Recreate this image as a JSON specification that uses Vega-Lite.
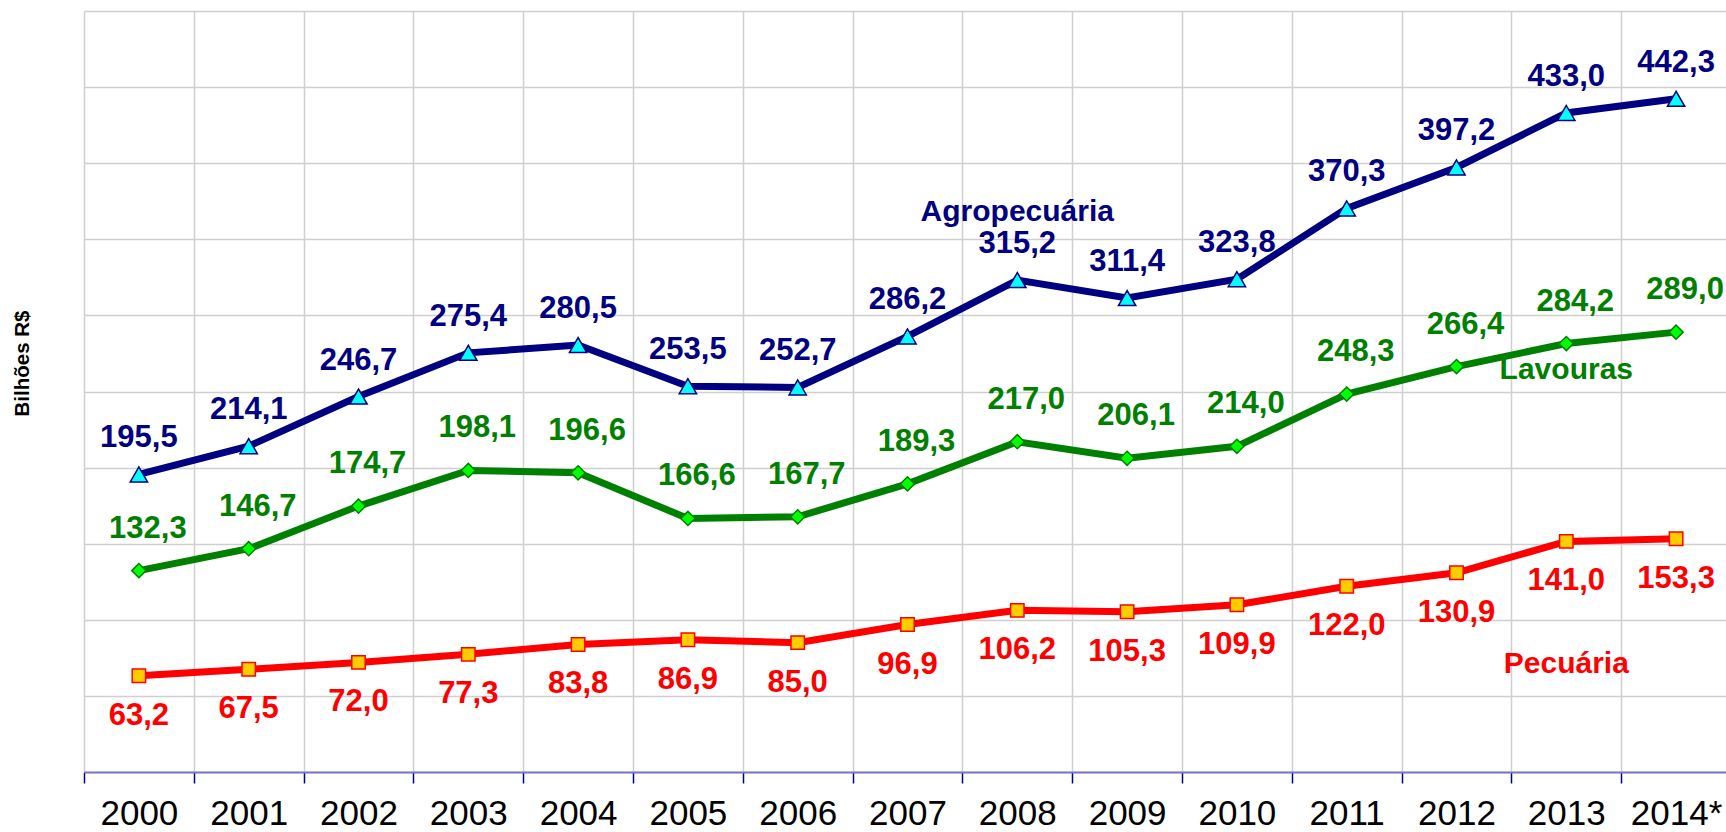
{
  "$schema": "https://vega.github.io/schema/vega-lite/v6.json",
  "width": 1642,
  "height": 761,
  "autosize": {"type": "none"},
  "padding": {"left": 84, "top": 11, "right": 0, "bottom": 60},
  "background": "white",
  "config": {"view": {"stroke": null}, "font": "Liberation Sans"},
  "datasets": {
    "main": [
      {"year": "2000", "serie": "Agropecuária", "value": 195.5, "label": "195,5"},
      {"year": "2001", "serie": "Agropecuária", "value": 214.1, "label": "214,1"},
      {"year": "2002", "serie": "Agropecuária", "value": 246.7, "label": "246,7"},
      {"year": "2003", "serie": "Agropecuária", "value": 275.4, "label": "275,4"},
      {"year": "2004", "serie": "Agropecuária", "value": 280.5, "label": "280,5"},
      {"year": "2005", "serie": "Agropecuária", "value": 253.5, "label": "253,5"},
      {"year": "2006", "serie": "Agropecuária", "value": 252.7, "label": "252,7"},
      {"year": "2007", "serie": "Agropecuária", "value": 286.2, "label": "286,2"},
      {"year": "2008", "serie": "Agropecuária", "value": 323.2, "label": "315,2"},
      {"year": "2009", "serie": "Agropecuária", "value": 311.4, "label": "311,4"},
      {"year": "2010", "serie": "Agropecuária", "value": 323.8, "label": "323,8"},
      {"year": "2011", "serie": "Agropecuária", "value": 370.3, "label": "370,3"},
      {"year": "2012", "serie": "Agropecuária", "value": 397.2, "label": "397,2"},
      {"year": "2013", "serie": "Agropecuária", "value": 433.0, "label": "433,0"},
      {"year": "2014*", "serie": "Agropecuária", "value": 442.3, "label": "442,3"},
      {"year": "2000", "serie": "Lavouras", "value": 132.3, "label": "132,3"},
      {"year": "2001", "serie": "Lavouras", "value": 146.7, "label": "146,7"},
      {"year": "2002", "serie": "Lavouras", "value": 174.7, "label": "174,7"},
      {"year": "2003", "serie": "Lavouras", "value": 198.1, "label": "198,1"},
      {"year": "2004", "serie": "Lavouras", "value": 196.6, "label": "196,6"},
      {"year": "2005", "serie": "Lavouras", "value": 166.6, "label": "166,6"},
      {"year": "2006", "serie": "Lavouras", "value": 167.7, "label": "167,7"},
      {"year": "2007", "serie": "Lavouras", "value": 189.3, "label": "189,3"},
      {"year": "2008", "serie": "Lavouras", "value": 217.0, "label": "217,0"},
      {"year": "2009", "serie": "Lavouras", "value": 206.1, "label": "206,1"},
      {"year": "2010", "serie": "Lavouras", "value": 214.0, "label": "214,0"},
      {"year": "2011", "serie": "Lavouras", "value": 248.3, "label": "248,3"},
      {"year": "2012", "serie": "Lavouras", "value": 266.4, "label": "266,4"},
      {"year": "2013", "serie": "Lavouras", "value": 281.5, "label": "284,2"},
      {"year": "2014*", "serie": "Lavouras", "value": 289.0, "label": "289,0"},
      {"year": "2000", "serie": "Pecuária", "value": 63.2, "label": "63,2"},
      {"year": "2001", "serie": "Pecuária", "value": 67.5, "label": "67,5"},
      {"year": "2002", "serie": "Pecuária", "value": 72.0, "label": "72,0"},
      {"year": "2003", "serie": "Pecuária", "value": 77.3, "label": "77,3"},
      {"year": "2004", "serie": "Pecuária", "value": 83.8, "label": "83,8"},
      {"year": "2005", "serie": "Pecuária", "value": 86.9, "label": "86,9"},
      {"year": "2006", "serie": "Pecuária", "value": 85.0, "label": "85,0"},
      {"year": "2007", "serie": "Pecuária", "value": 96.9, "label": "96,9"},
      {"year": "2008", "serie": "Pecuária", "value": 106.2, "label": "106,2"},
      {"year": "2009", "serie": "Pecuária", "value": 105.3, "label": "105,3"},
      {"year": "2010", "serie": "Pecuária", "value": 109.9, "label": "109,9"},
      {"year": "2011", "serie": "Pecuária", "value": 122.0, "label": "122,0"},
      {"year": "2012", "serie": "Pecuária", "value": 130.9, "label": "130,9"},
      {"year": "2013", "serie": "Pecuária", "value": 151.5, "label": "141,0"},
      {"year": "2014*", "serie": "Pecuária", "value": 153.3, "label": "153,3"}
    ],
    "names": [
      {"year": "2008", "serie": "Agropecuária", "value": 368},
      {"year": "2013", "serie": "Lavouras", "value": 264},
      {"year": "2013", "serie": "Pecuária", "value": 71}
    ]
  },
  "encoding": {
    "x": {
      "field": "year",
      "type": "ordinal",
      "sort": ["2000", "2001", "2002", "2003", "2004", "2005", "2006", "2007", "2008", "2009", "2010", "2011", "2012", "2013", "2014*"],
      "scale": {"type": "band", "range": [0, 1647], "paddingInner": 0, "paddingOuter": 0},
      "axis": {
        "title": null,
        "labelAngle": 0,
        "labelFontSize": 35,
        "labelColor": "#000000",
        "labelPadding": 13,
        "domain": true,
        "domainColor": "#7878c4",
        "domainWidth": 2,
        "ticks": true,
        "tickColor": "#000080",
        "tickSize": 11,
        "tickWidth": 1.5,
        "tickBand": "extent",
        "grid": true,
        "gridColor": "#cfcfcf",
        "gridWidth": 1.5
      }
    },
    "y": {
      "field": "value",
      "type": "quantitative",
      "scale": {"domain": [0, 500], "nice": false, "zero": true},
      "axis": {
        "title": "Bilhões R$",
        "titleFontSize": 20.5,
        "titleFontWeight": "bold",
        "titleColor": "#000000",
        "titleX": -62,
        "titleY": 352,
        "titleAngle": -90,
        "titleAlign": "center",
        "titleBaseline": "middle",
        "labels": false,
        "ticks": false,
        "domain": false,
        "grid": true,
        "gridColor": "#cfcfcf",
        "gridWidth": 1.5,
        "values": [0, 50, 100, 150, 200, 250, 300, 350, 400, 450, 500]
      }
    }
  },
  "layer": [
    {
      "data": {"name": "main"},
      "mark": {"type": "line", "strokeWidth": 7},
      "encoding": {
        "color": {
          "field": "serie",
          "type": "nominal",
          "scale": {"domain": ["Agropecuária", "Lavouras", "Pecuária"], "range": ["#000080", "#008000", "#ff0000"]},
          "legend": null
        }
      }
    },
    {
      "data": {"name": "main"},
      "transform": [{"filter": "datum.serie === 'Agropecuária'"}],
      "mark": {"type": "point", "shape": "triangle-up", "filled": true, "fill": "#00ffff", "stroke": "#000080", "strokeWidth": 1.5, "size": 300, "opacity": 1}
    },
    {
      "data": {"name": "main"},
      "transform": [{"filter": "datum.serie === 'Lavouras'"}],
      "mark": {"type": "point", "shape": "diamond", "filled": true, "fill": "#00ff00", "stroke": "#008000", "strokeWidth": 1.5, "size": 200, "opacity": 1}
    },
    {
      "data": {"name": "main"},
      "transform": [{"filter": "datum.serie === 'Pecuária'"}],
      "mark": {"type": "point", "shape": "square", "filled": true, "fill": "#ffcc00", "stroke": "#ff0000", "strokeWidth": 1.5, "size": 180, "opacity": 1}
    },
    {
      "data": {"name": "main"},
      "transform": [{"filter": "datum.serie === 'Agropecuária'"}],
      "mark": {"type": "text", "fontSize": 31, "fontWeight": "bold", "color": "#000080", "dy": -36, "baseline": "middle", "align": "center"},
      "encoding": {"text": {"field": "label"}}
    },
    {
      "data": {"name": "main"},
      "transform": [{"filter": "datum.serie === 'Lavouras'"}],
      "mark": {"type": "text", "fontSize": 31, "fontWeight": "bold", "color": "#008000", "dx": 9, "dy": -42, "baseline": "middle", "align": "center"},
      "encoding": {"text": {"field": "label"}}
    },
    {
      "data": {"name": "main"},
      "transform": [{"filter": "datum.serie === 'Pecuária'"}],
      "mark": {"type": "text", "fontSize": 31, "fontWeight": "bold", "color": "#ff0000", "dy": 40, "baseline": "middle", "align": "center"},
      "encoding": {"text": {"field": "label"}}
    },
    {
      "data": {"name": "names"},
      "mark": {"type": "text", "fontSize": 30, "fontWeight": "bold", "baseline": "middle", "align": "center"},
      "encoding": {
        "text": {"field": "serie"},
        "color": {"field": "serie", "type": "nominal", "legend": null}
      }
    }
  ]
}
